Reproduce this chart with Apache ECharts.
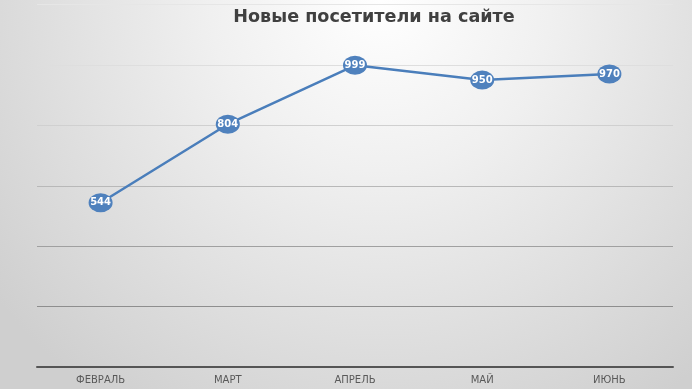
<!DOCTYPE html>
<html><head><meta charset="utf-8">
<script src="https://cdn.jsdelivr.net/npm/echarts@6/dist/echarts.min.js"></script>
<style>html,body{margin:0;padding:0;}#c{width:692px;height:389px;}</style>
</head><body><div id="c"></div>
<script>
const categories = ['ФЕВРАЛЬ', 'МАРТ', 'АПРЕЛЬ', 'МАЙ', 'ИЮНЬ'];
const visitors = [544, 804, 999, 950, 970];
const titleText = 'Новые посетители на сайте';

const chart = echarts.init(document.getElementById('c'), null, {renderer: 'canvas'});
chart.setOption({
  backgroundColor: {
    type: 'radial', x: 0.55, y: 0.0, r: 1.25,
    colorStops: [{offset: 0, color: '#ffffff'}, {offset: 0.35, color: '#f0f0f0'}, {offset: 1, color: '#cfcfcf'}]
  },
  title: {
    text: titleText, left: 369, top: 3, textAlign: 'center',
    textStyle: {fontFamily: 'DejaVu Sans', fontWeight: 'bold', fontSize: 17.6, color: '#404040'}
  },
  grid: {left: 37, right: 19, top: 4.6, bottom: 22, containLabel: false},
  xAxis: {
    type: 'category', data: categories, boundaryGap: true,
    axisLine: {lineStyle: {color: '#555555', width: 2}},
    axisTick: {show: false},
    axisLabel: {color: '#595959', fontSize: 10, fontFamily: 'DejaVu Sans', margin: 8}
  },
  yAxis: {
    type: 'value', min: 0, max: 1200, interval: 200,
    axisLine: {show: false}, axisTick: {show: false}, axisLabel: {show: false},
    splitLine: {lineStyle: {color: ['#555555', '#8e8e8e', '#a0a0a0', '#b8b8b8', '#d0d0d0', '#dedede', '#e6e6e6'], width: 1.2}}
  },
  series: [{
    type: 'line', data: visitors,
    symbol: 'circle', symbolSize: [24, 19],
    lineStyle: {color: '#4a7ebb', width: 2.5},
    itemStyle: {color: '#4f81bd'},
    label: {show: true, position: 'inside', color: '#ffffff', fontWeight: 'bold', fontSize: 10, fontFamily: 'DejaVu Sans'},
    z: 5
  }]
});
</script></body></html>
